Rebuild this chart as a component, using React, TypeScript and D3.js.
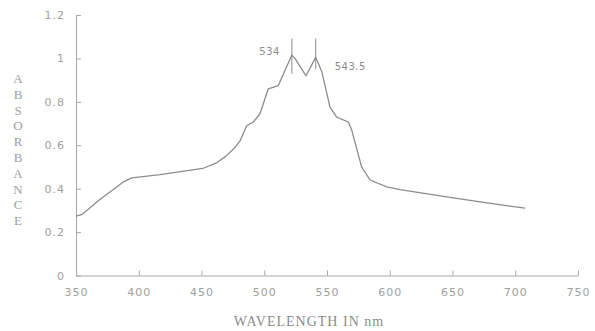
import { useEffect, useRef } from "react";
import * as d3 from "d3";

const wavelength = [
  350, 354.5, 369, 387.5, 394.4, 417, 451, 462, 469.5, 476.7, 480.7, 486,
  491.3, 496.6, 503.2, 511.2, 521.9, 524.5, 533.3, 541, 545.8, 552.4, 557.7,
  567, 569.7, 577.6, 584.3, 597.6, 608.2, 645.4, 672, 707.8,
];
const absorbance = [
  0.274, 0.28, 0.35, 0.43, 0.45, 0.465, 0.493, 0.519, 0.55, 0.59, 0.62, 0.69,
  0.707, 0.745, 0.86, 0.875, 1.015, 1.0, 0.92, 1.005, 0.94, 0.776, 0.73,
  0.707, 0.67, 0.5, 0.44, 0.408, 0.396, 0.362, 0.339, 0.31,
];
const xTicks = [350, 400, 450, 500, 550, 600, 650, 700, 750];
const yTicks = [0, 0.2, 0.4, 0.6, 0.8, 1, 1.2];
const peakWavelengths = [522, 541];
const peakLabels = ["534", "543.5"];

function renderChart(element: SVGSVGElement) {
  const svg = d3.select(element);
  svg.selectAll("*").remove();

  const x = d3.scaleLinear().domain([350, 750]).range([76, 578]);
  const y = d3.scaleLinear().domain([0, 1.2]).range([275.5, 15]);
  const grey = "#a8a8a8";

  const styleTicks = (g: d3.Selection<SVGGElement, unknown, null, undefined>) => {
    g.select(".domain").attr("stroke", grey);
    g.selectAll("line").attr("stroke", grey);
    g.selectAll("text")
      .attr("fill", "#a0a0a0")
      .style("font-family", "DejaVu Sans")
      .style("font-size", "11px")
      .style("letter-spacing", "1px");
  };

  // X axis (ticks pointing inward)
  svg
    .append("g")
    .attr("transform", `translate(0,${y(0)})`)
    .call(d3.axisBottom(x).tickValues(xTicks).tickSizeInner(-5).tickSizeOuter(0).tickPadding(13))
    .call(styleTicks);

  // Y axis
  svg
    .append("g")
    .attr("transform", `translate(${x(350)},0)`)
    .call(
      d3
        .axisLeft(y)
        .tickValues(yTicks)
        .tickFormat((d) => String(+(+d).toFixed(1)))
        .tickSizeInner(-5)
        .tickSizeOuter(0)
        .tickPadding(11)
    )
    .call(styleTicks);

  // spectrum
  const pts: [number, number][] = wavelength.map((w, i) => [w, absorbance[i]]);
  svg
    .append("path")
    .datum(pts)
    .attr("fill", "none")
    .attr("stroke", "#8c8c8c")
    .attr("stroke-width", 1.3)
    .attr("stroke-linejoin", "round")
    .attr("d", d3.line().x((d) => x(d[0])).y((d) => y(d[1])));

  // peak markers
  peakWavelengths.forEach((w, i) => {
    svg
      .append("line")
      .attr("x1", x(w))
      .attr("x2", x(w))
      .attr("y1", y(1.092))
      .attr("y2", y(i === 0 ? 0.93 : 0.95))
      .attr("stroke", "#8c8c8c")
      .attr("stroke-width", 1);
  });
  svg
    .append("text")
    .attr("x", x(peakWavelengths[0]) - 12)
    .attr("y", 55)
    .attr("text-anchor", "end")
    .attr("fill", "#8c8c8c")
    .style("font-family", "DejaVu Sans")
    .style("font-size", "10px")
    .style("letter-spacing", "0.5px")
    .text(peakLabels[0]);
  svg
    .append("text")
    .attr("x", x(peakWavelengths[1]) + 19)
    .attr("y", 70)
    .attr("fill", "#8c8c8c")
    .style("font-family", "DejaVu Sans")
    .style("font-size", "10px")
    .style("letter-spacing", "0.5px")
    .text(peakLabels[1]);

  // axis titles
  svg
    .append("text")
    .attr("x", 309)
    .attr("y", 326)
    .attr("text-anchor", "middle")
    .attr("fill", "#8c8c8c")
    .style("font-family", "Liberation Serif")
    .style("font-size", "14px")
    .style("letter-spacing", "1px")
    .text("WAVELENGTH IN nm");

  const yTitle = svg
    .append("text")
    .attr("fill", "#a0a0a0")
    .attr("text-anchor", "middle")
    .style("font-family", "Liberation Serif")
    .style("font-size", "13px");
  "ABSORBANCE".split("").forEach((ch, i) => {
    yTitle
      .append("tspan")
      .attr("x", 18)
      .attr("y", 83 + i * 15.8)
      .text(ch);
  });
}

export default function App() {
  const ref = useRef<SVGSVGElement>(null);
  useEffect(() => {
    if (ref.current) renderChart(ref.current);
  }, []);
  return (
    <svg
      ref={ref}
      width={595}
      height={331}
      style={{ position: "absolute", left: 0, top: 0, background: "#fff" }}
    />
  );
}
